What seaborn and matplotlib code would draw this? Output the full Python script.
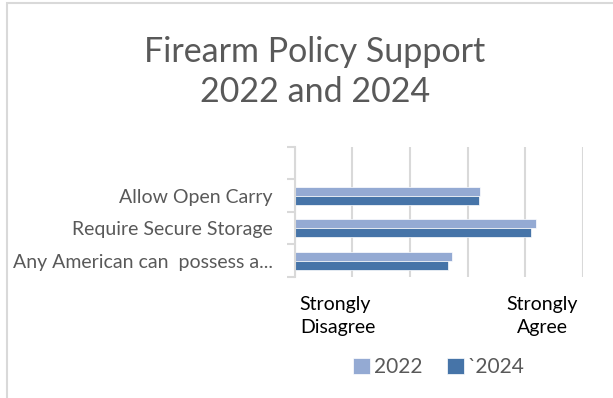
import matplotlib.pyplot as plt
import matplotlib.patches as mpatches
import seaborn as sns
import pandas as pd

# data (1 = strongly disagree ... 5 = strongly agree, axis from 0)
policies = ["Allow Open Carry", "Require Secure Storage", "Any American can  possess a..."]
support_2022 = [3.21, 4.18, 2.73]
support_2024 = [3.20, 4.09, 2.65]
years = ["2022", "`2024"]

df = pd.DataFrame({
    "policy": policies * 2,
    "year": [years[0]] * 3 + [years[1]] * 3,
    "support": support_2022 + support_2024,
})

sns.set_style("white")
plt.rcParams["font.family"] = ["Lato", "DejaVu Sans"]

fig = plt.figure(figsize=(6.13, 3.98), dpi=100)
ax = fig.add_axes([0.481, 0.304, 0.47, 0.327])

sns.barplot(data=df, y="policy", x="support", hue="year", order=policies,
            hue_order=years, palette=["#94AAD3", "#4674A8"], saturation=1,
            orient="h", width=0.55, edgecolor="white", linewidth=0.5, ax=ax)

ax.set_xlim(0, 5)
ax.set_ylim(2.5, -1.5)
ax.set_xticks(range(0, 6))
ax.set_xticklabels([])
ax.tick_params(axis="x", length=0)
ax.grid(axis="x", color="#D9D9D9", linewidth=1.5)
ax.set_axisbelow(True)
ax.set_yticks([0, 1, 2])
ax.set_yticklabels(policies, fontsize=14, color="#595959")
ax.set_yticks([-1.5, -0.5, 0.5, 1.5, 2.5], minor=True)
ax.tick_params(axis="y", which="major", length=0, pad=16)
ax.tick_params(axis="y", which="minor", length=6, width=1.5, color="#D9D9D9", left=True)
for s in ["top", "right", "bottom"]:
    ax.spines[s].set_visible(False)
ax.spines["left"].set_color("#D9D9D9")
ax.spines["left"].set_linewidth(1.5)
ax.set_xlabel("")
ax.set_ylabel("")

handles, labels = ax.get_legend_handles_labels()
ax.get_legend().remove()
fig.legend(handles, labels, loc="center", bbox_to_anchor=(0.716, 0.078), ncol=2,
           frameon=False, fontsize=15, labelcolor="#595959", handlelength=0.8,
           handleheight=0.8, handletextpad=0.2, columnspacing=1.2)

fig.text(0.514, 0.819, "Firearm Policy Support\n2022 and 2024", ha="center", va="center",
         fontsize=24.5, color="#595959", linespacing=1.3)
fig.text(0.489, 0.206, "Strongly\nDisagree", ha="left", va="center", fontsize=14,
         color="black", linespacing=1.4)
fig.text(0.885, 0.206, "Strongly\nAgree", ha="center", va="center", fontsize=14,
         color="black", linespacing=1.4, multialignment="center")

# chart frame
fig.patches.append(mpatches.Rectangle((7 / 613, -0.1), 1.2, 1 - 3 / 398 + 0.1,
                                      transform=fig.transFigure, fill=False,
                                      edgecolor="#D9D9D9", linewidth=1.5))

fig.savefig("out.png", dpi=100)
